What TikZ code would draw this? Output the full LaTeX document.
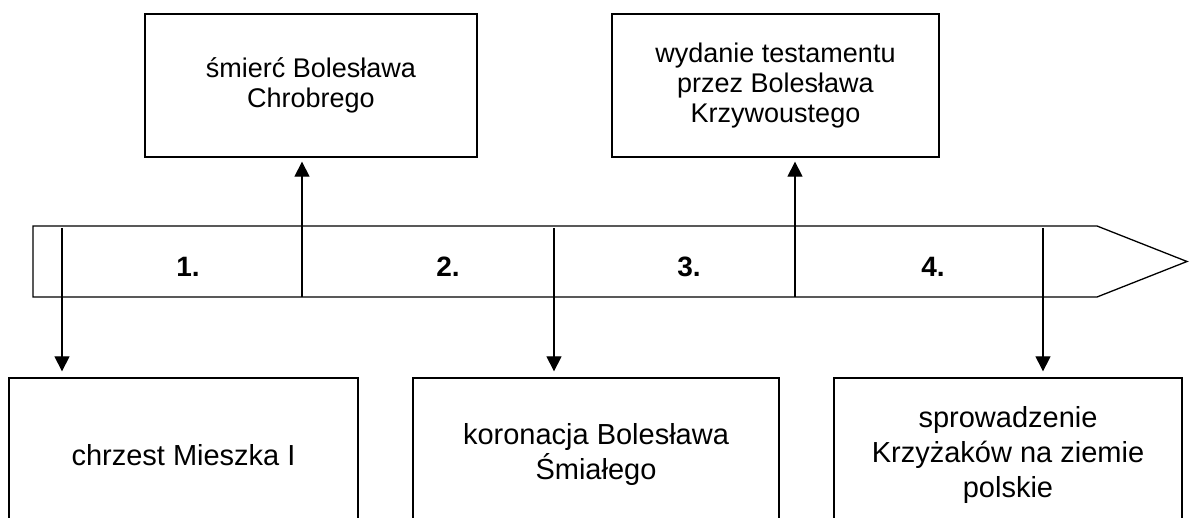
\documentclass[tikz,border=0pt]{standalone}
\usepackage{fontspec}
\setmainfont{Liberation Sans}
\usetikzlibrary{arrows.meta}
\begin{document}
\begin{tikzpicture}[x=1pt,y=-1pt,
  box/.style={draw,line width=1.3pt,align=center,inner sep=0pt},
  topbox/.style={box,minimum height=143pt,font=\fontsize{27}{30}\selectfont},
  botbox/.style={box,minimum height=154pt,font=\fontsize{29}{35}\selectfont},
  arr/.style={line width=1.2pt,-{Triangle[length=15pt,width=15pt]}},
  lbl/.style={font=\bfseries\fontsize{28}{30}\selectfont,anchor=base}]
\useasboundingbox (0,0) rectangle (1189,518);
\clip (0,0) rectangle (1189,518);
% timeline
\draw[line width=1.3pt,line join=miter] (33,226) -- (1097,226) -- (1187,261.5) -- (1097,297) -- (33,297) -- cycle;
% boxes
\node[topbox,minimum width=332pt] (t1) at (311,85.5) {śmierć Bolesława\\Chrobrego};
\node[topbox,minimum width=327pt] (t2) at (775.5,85.5) {wydanie testamentu\\przez Bolesława\\Krzywoustego};
\node[botbox,minimum width=349pt] (b1) at (183.5,455) {chrzest Mieszka I};
\node[botbox,minimum width=366pt] (b2) at (596,455) {koronacja Bolesława\\Śmiałego};
\node[botbox,minimum width=348pt] (b3) at (1008,455) {sprowadzenie\\Krzyżaków na ziemie\\polskie};
% labels
\node[lbl] (l1) at (188,277) {1.};
\node[lbl] (l2) at (448,277) {2.};
\node[lbl] (l3) at (689,277) {3.};
\node[lbl] (l4) at (933,277) {4.};
% connectors
\coordinate (d1) at (62,228);
\coordinate (d2) at (554,228);
\coordinate (d3) at (1043,228);
\coordinate (u1) at (302,297);
\coordinate (u2) at (795,297);
\draw[arr,shorten >=6pt] (d1) -- (d1 |- b1.north);
\draw[arr,shorten >=6pt] (d2) -- (d2 |- b2.north);
\draw[arr,shorten >=6pt] (d3) -- (d3 |- b3.north);
\draw[arr,shorten >=4pt] (u1) -- (u1 |- t1.south);
\draw[arr,shorten >=4pt] (u2) -- (u2 |- t2.south);
\end{tikzpicture}
\end{document}
